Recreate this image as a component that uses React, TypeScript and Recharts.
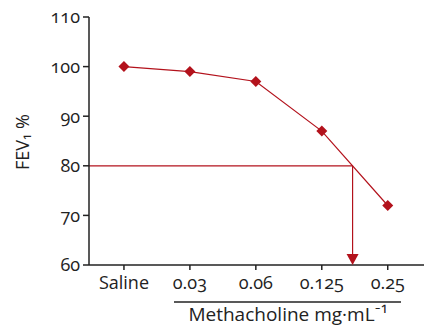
import React from 'react';
import {
  ComposedChart,
  Line,
  XAxis,
  YAxis,
  ReferenceLine,
  ReferenceDot
} from 'recharts';

const doseLabels = ['Saline', '0.03', '0.06', '0.125', '0.25'];
const fev1Values = [100, 99, 97, 87, 72];
const yTicks = [60, 70, 80, 90, 100, 110];
const pc20Threshold = 80;
// interpolated dose position where FEV1 crosses 80 %
const pc20Position = 3.467;

const RED = '#b3121c';
const FONT = '"Open Sans", Lato, sans-serif';

const data = doseLabels.map((label, i) => ({ x: i, label, fev1: fev1Values[i] }));

const Diamond = (props: any) => {
  const { cx, cy } = props;
  if (cx == null || cy == null) return null;
  const r = 5.5;
  return (
    <path
      d={`M${cx},${cy - r}L${cx + r},${cy}L${cx},${cy + r}L${cx - r},${cy}Z`}
      fill={RED}
    />
  );
};

const ArrowHead = (props: any) => {
  const { cx, cy } = props;
  return <path d={`M${cx},${cy}L${cx - 6},${cy - 11}L${cx + 6},${cy - 11}Z`} fill={RED} />;
};

const YLabel = () => {
  const x = 22;
  const y = 142;
  return (
    <text
      x={x}
      y={y}
      transform={`rotate(-90 ${x} ${y})`}
      textAnchor="middle"
      dominantBaseline="central"
      fontFamily={FONT}
      fontSize={18}
      fill="#222"
    >
      FEV₁ %
    </text>
  );
};

const XLabel = (props: any) => {
  const { viewBox } = props;
  const y0 = viewBox.y;
  return (
    <g>
      <line x1={174} x2={401} y1={y0 + 37} y2={y0 + 37} stroke="#222" strokeWidth={1.3} />
      <text
        x={288}
        y={y0 + 56}
        textAnchor="middle"
        fontFamily={FONT}
        fontSize={19}
        fill="#222"
      >
        Methacholine mg·mL⁻¹
      </text>
    </g>
  );
};

export default function App() {
  return (
    <div style={{ position: 'absolute', left: 0, top: 0, width: 424, height: 328, background: '#fff' }}>
      <ComposedChart
        width={424}
        height={328}
        data={data}
        margin={{ top: 17, right: 0, bottom: 0, left: 0 }}
        style={{ fontFeatureSettings: '"onum"' }}
      >
        <XAxis
          dataKey="x"
          type="number"
          domain={[-0.53, 4.55]}
          ticks={[0, 1, 2, 3, 4]}
          tickFormatter={(v: number) => doseLabels[v]}
          allowDataOverflow
          height={63}
          stroke="#222"
          strokeWidth={1.5}
          tickSize={5}
          tickMargin={6}
          tick={{ fill: '#222', fontSize: 18, fontFamily: FONT }}
          label={<XLabel />}
        />
        <YAxis
          type="number"
          domain={[60, 110]}
          ticks={yTicks}
          width={89}
          stroke="#222"
          strokeWidth={1.5}
          tickSize={6}
          tickMargin={3}
          tick={{ fill: '#222', fontSize: 18, fontFamily: FONT }}
          label={<YLabel />}
        />
        <ReferenceLine
          segment={[{ x: -0.53, y: pc20Threshold }, { x: pc20Position, y: pc20Threshold }]}
          stroke={RED}
          strokeWidth={1.2}
        />
        <ReferenceLine
          segment={[{ x: pc20Position, y: pc20Threshold }, { x: pc20Position, y: 62 }]}
          stroke={RED}
          strokeWidth={1.2}
        />
        <ReferenceDot x={pc20Position} y={60} shape={<ArrowHead />} />
        <Line
          dataKey="fev1"
          stroke={RED}
          strokeWidth={1.2}
          dot={<Diamond />}
          activeDot={false}
          isAnimationActive={false}
        />
      </ComposedChart>
    </div>
  );
}
